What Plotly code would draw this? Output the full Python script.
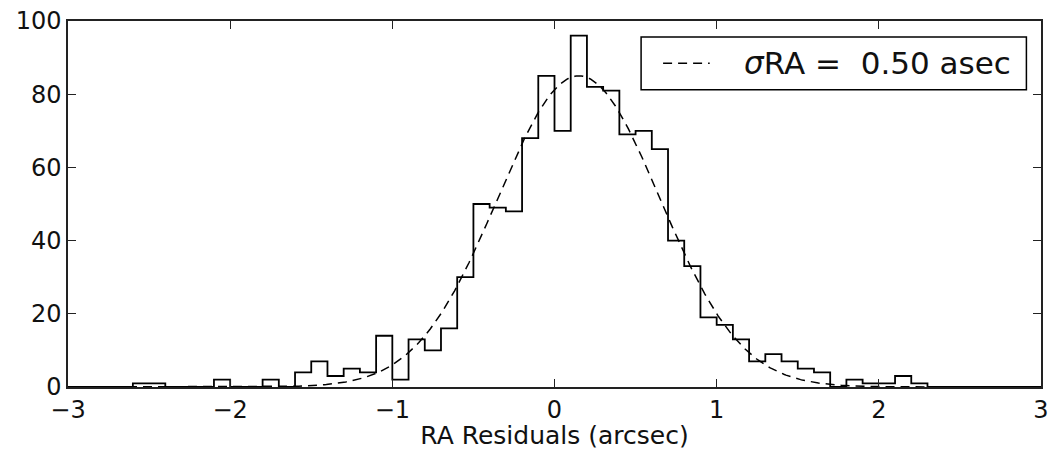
import numpy as np
import plotly.graph_objects as go

# Histogram of RA residuals: 0.1 arcsec bins from -3 to 3
bin_start = -3.0
bin_width = 0.1
counts = [
    0, 0, 0, 0, 1, 1, 0, 0, 0, 2,      # -3.0 .. -2.0
    0, 0, 2, 0, 4, 7, 3, 5, 4, 14,     # -2.0 .. -1.0
    2, 13, 10, 16, 30, 50, 49, 48, 68, 85,  # -1.0 .. 0.0
    70, 96, 82, 81, 69, 70, 65, 40, 33, 19,  # 0.0 .. 1.0
    17, 13, 7, 9, 7, 5, 4, 0, 2, 1,    # 1.0 .. 2.0
    1, 3, 1, 0, 0, 0, 0, 0, 0, 0,      # 2.0 .. 3.0
]

# Gaussian fit
fit_mean = 0.15
fit_sigma = 0.50
fit_amp = 85.0
legend_label = "<i>σ</i>RA =\u00a0\u00a00.50 asec"

x_ticks = [-3, -2, -1, 0, 1, 2, 3]
x_tick_text = ["\u22123", "\u22122", "\u22121", "0", "1", "2", "3"]
y_ticks = [0, 20, 40, 60, 80, 100]

counts = np.array(counts, dtype=float)
edges = bin_start + bin_width * np.arange(len(counts) + 1)

# Step outline (histtype="step"): baseline -> bars -> baseline
step_x = np.concatenate([[edges[0]], np.repeat(edges, 2)[1:-1], [edges[-1]]])
step_y = np.concatenate([[0.0], np.repeat(counts, 2), [0.0]])

xf = np.linspace(edges[0], edges[-1], 600)
yf = fit_amp * np.exp(-0.5 * ((xf - fit_mean) / fit_sigma) ** 2)

FONT = "DejaVu Sans"
DASH = "9px,6px"

fig = go.Figure()
fig.add_trace(go.Scatter(
    x=step_x, y=step_y, mode="lines",
    line=dict(color="black", width=1.8),
    showlegend=False, hoverinfo="skip",
))
fig.add_trace(go.Scatter(
    x=xf, y=yf, mode="lines",
    line=dict(color="black", width=1.5, dash=DASH),
    showlegend=False, hoverinfo="skip",
))

# Legend box drawn in paper coordinates
box = dict(x0=0.589, x1=0.985, y0=0.8125, y1=0.9565)
ymid = 0.5 * (box["y0"] + box["y1"])
fig.add_shape(type="rect", xref="paper", yref="paper", **box,
              line=dict(color="black", width=1.5), fillcolor="white")
fig.add_shape(type="line", xref="paper", yref="paper",
              x0=0.6116, x1=0.6595, y0=ymid, y1=ymid,
              line=dict(color="black", width=1.5, dash=DASH))
fig.add_annotation(xref="paper", yref="paper", x=0.6932, y=ymid,
                   xanchor="left", yanchor="middle", showarrow=False,
                   text=legend_label,
                   font=dict(family=FONT, size=31, color="#111111"))

axis_common = dict(
    showline=True, linecolor="#222222", linewidth=1.5, mirror="ticks",
    ticks="inside", ticklen=8, tickwidth=1, tickcolor="#222222",
    showgrid=False, zeroline=False,
    tickfont=dict(family=FONT, size=24, color="#111111"),
)

fig.update_layout(
    width=1056, height=450,
    margin=dict(l=68, r=7, t=20, b=62),
    paper_bgcolor="white", plot_bgcolor="white",
    font=dict(family=FONT, color="#111111"),
    showlegend=False,
    xaxis=dict(range=[-3, 3], tickvals=x_ticks, ticktext=x_tick_text,
               title=dict(text="RA Residuals (arcsec)",
                          font=dict(family=FONT, size=25), standoff=2),
               **axis_common),
    yaxis=dict(range=[0, 100], tickvals=y_ticks, **axis_common),
)

fig.write_html("out.html")
